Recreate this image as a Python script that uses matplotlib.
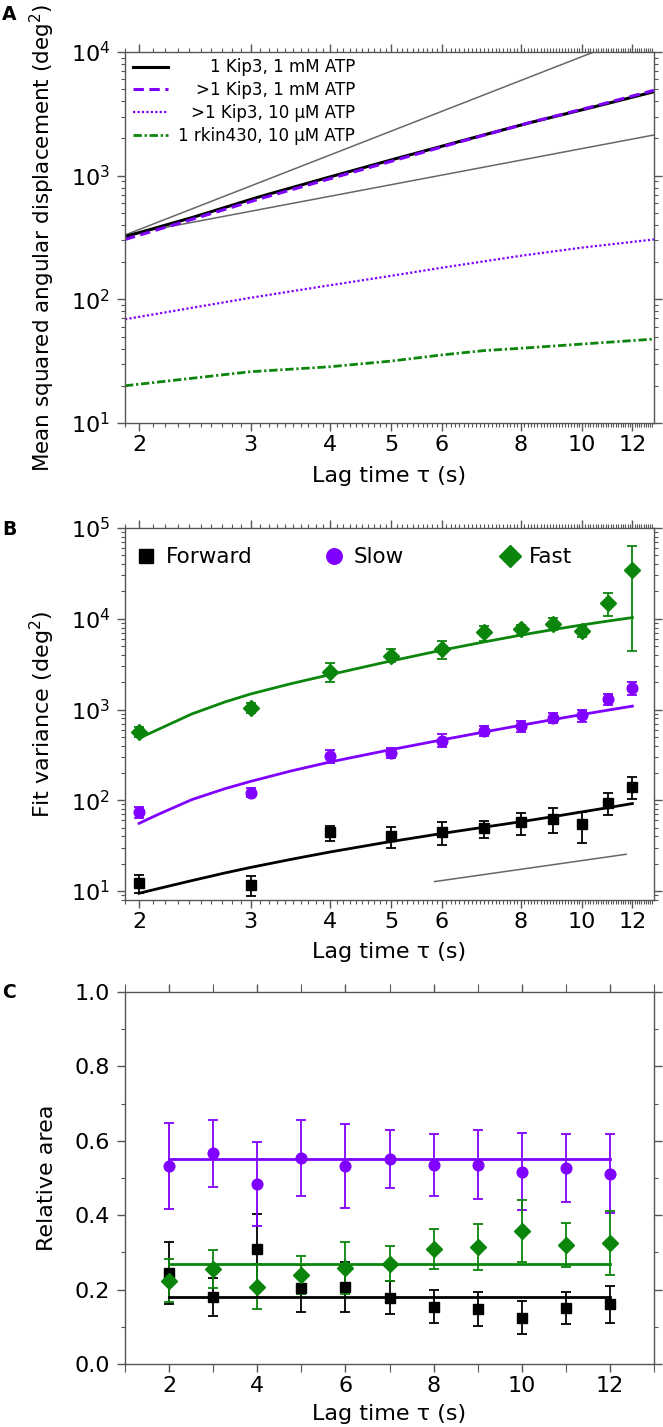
import numpy as np
import matplotlib
matplotlib.use("Agg")
import matplotlib.pyplot as plt
from matplotlib.legend import Legend
from matplotlib.ticker import (FixedLocator, FixedFormatter, LogLocator, NullFormatter,
                               LogFormatterMathtext, MultipleLocator, FormatStrFormatter)

plt.rcParams['font.family'] = ['DejaVu Sans']
plt.rcParams['mathtext.fontset'] = 'dejavusans'

BLACK = '#000000'
PURPLE = '#8000ff'
GREEN = '#0b850b'
GRAY = '#666666'
AXC = '#555555'

# ---- panel A: MSD curves ----
msd_tau = [1.9, 2.43, 3.1, 3.96, 5.06, 6.47, 8.27, 10.56, 12.98]
msd_kip3_1mM = [321, 460, 676, 963, 1364, 1918, 2682, 3653, 4775]
msd_multi_1mM = [305, 445, 650, 930, 1330, 1900, 2690, 3700, 4900]
msd_tau_slow = [1.9, 3, 4, 5, 6, 8, 10, 12.98]
msd_multi_10uM = [69, 103, 130, 155, 180, 225, 262, 305]
msd_tau_rkin = [1.9, 3, 4, 5, 6, 7, 8, 10, 12.98]
msd_rkin_10uM = [20, 26, 28.5, 31.7, 35.5, 38.5, 40.2, 43.5, 47.7]
msd_labels = ['1 Kip3, 1 mM ATP', '>1 Kip3, 1 mM ATP', '>1 Kip3, 10 µM ATP', '1 rkin430, 10 µM ATP']

guide2_x = [1.9, 10.43]
guide2_y = [331, 10000]
guide1_x = [1.9, 12.98]
guide1_y = [331, 2134]

# ---- panel B: fit variances ----
tau = [2, 3, 4, 5, 6, 7, 8, 9, 10, 11, 12]
fwd_var = [12.4, 11.6, 44.4, 40.6, 44.4, 49, 57, 62, 54.7, 94, 141]
fwd_var_hi = [15.0, 14.6, 52.5, 51, 58, 59.5, 73, 83, 74.7, 121, 179]
fwd_var_lo = [9.4, 8.8, 35.8, 30, 32, 38, 41, 44, 34, 69, 102]
slow_var = [73.6, 121, 307, 329, 453, 584, 657, 800, 869, 1305, 1738]
slow_var_hi = [85, 135, 357, 372, 537, 657, 750, 918, 1000, 1500, 2000]
slow_var_lo = [63, 108, 255, 289, 385, 510, 565, 702, 730, 1120, 1460]
fast_var = [569, 1047, 2612, 3920, 4604, 7080, 7640, 8680, 7380, 15000, 34400]
fast_var_hi = [648, 1190, 3260, 4640, 5670, 8330, 8640, 10100, 8330, 19400, 63300]
fast_var_lo = [494, 907, 2020, 3320, 3570, 5740, 6600, 7460, 6310, 10700, 4400]

fit_tau = [2, 2.14, 2.42, 2.73, 3, 3.47, 4, 4.87, 6, 7, 8, 9, 10, 11, 12]
fwd_fit = [9.44, 10.6, 13.0, 15.8, 18.2, 22.3, 26.9, 34.1, 43, 50.5, 58, 66, 74.5, 83, 92]
slow_fit = [55.7, 69.5, 101.4, 134, 161.5, 210, 264, 349, 462, 565, 670, 775, 881, 986, 1089]
fast_fit = [482, 600, 891, 1209, 1483, 1924, 2420, 3300, 4500, 5550, 6600, 7600, 8550, 9450, 10300]

guideB_x = [5.85, 11.73]
guideB_y = [12.7, 25.4]

# ---- panel C: relative areas ----
fwd_area = [0.244, 0.180, 0.308, 0.203, 0.206, 0.178, 0.154, 0.147, 0.125, 0.151, 0.160]
fwd_area_err = [0.083, 0.050, 0.095, 0.062, 0.067, 0.044, 0.044, 0.046, 0.045, 0.043, 0.049]
slow_area = [0.532, 0.566, 0.483, 0.554, 0.532, 0.551, 0.534, 0.536, 0.517, 0.527, 0.512]
slow_area_err = [0.115, 0.090, 0.113, 0.103, 0.112, 0.078, 0.083, 0.092, 0.103, 0.091, 0.105]
fast_area = [0.224, 0.255, 0.208, 0.240, 0.259, 0.270, 0.309, 0.315, 0.357, 0.320, 0.325]
fast_area_err = [0.057, 0.052, 0.060, 0.051, 0.070, 0.046, 0.054, 0.062, 0.083, 0.060, 0.087]
fwd_mean, slow_mean, fast_mean = 0.18, 0.55, 0.27

W, H = 663, 1427
fig = plt.figure(figsize=(W / 100, H / 100), dpi=100)


def px_axes(left, top, right, bottom):
    return fig.add_axes([left / W, 1 - bottom / H, (right - left) / W, (bottom - top) / H])


def style_axes(ax):
    for s in ax.spines.values():
        s.set_color(AXC)
        s.set_linewidth(1.0)
    ax.tick_params(which='both', direction='out', top=True, right=True, color=AXC,
                   labelsize=16, labelcolor='black')
    ax.tick_params(which='major', length=5.8, width=1.0)
    ax.tick_params(which='minor', length=3.2, width=0.8)
    ax.tick_params(axis='x', which='major', pad=2.5)
    ax.tick_params(axis='y', which='major', pad=5)


def log_lag_axis(ax):
    ax.set_xscale('log')
    ax.set_xlim(1.9, 12.98)
    ax.xaxis.set_major_locator(FixedLocator([2, 3, 4, 5, 6, 8, 10, 12]))
    ax.xaxis.set_major_formatter(FixedFormatter(['2', '3', '4', '5', '6', '8', '10', '12']))
    ax.xaxis.set_minor_locator(FixedLocator(np.arange(19, 130) / 10.0))
    ax.xaxis.set_minor_formatter(NullFormatter())
    ax.yaxis.set_major_formatter(LogFormatterMathtext())
    ax.yaxis.set_minor_locator(LogLocator(base=10, subs=np.arange(2, 10)))
    ax.yaxis.set_minor_formatter(NullFormatter())


def lag_label(ax, ycoord):
    ax.set_xlabel('Lag time τ (s)', fontsize=16)
    ax.xaxis.set_label_coords(0.5, ycoord)


# ---------------- A ----------------
axA = px_axes(125, 52, 654, 423)
axA.set_yscale('log')
axA.plot(guide2_x, guide2_y, color=GRAY, lw=1.1)
axA.plot(guide1_x, guide1_y, color=GRAY, lw=1.1)
lA = []
lA += axA.plot(msd_tau, msd_kip3_1mM, color=BLACK, lw=2.2)
lA += axA.plot(msd_tau, msd_multi_1mM, color=PURPLE, lw=2.2, ls=(0, (3.4, 1.8)))
lA += axA.plot(msd_tau_slow, msd_multi_10uM, color=PURPLE, lw=1.6, ls=(0, (1, 1)))
lA += axA.plot(msd_tau_rkin, msd_rkin_10uM, color=GREEN, lw=2.0, ls=(0, (3, 1, 0.8, 1)))
axA.set_ylim(10, 1e4)
log_lag_axis(axA)
lag_label(axA, -0.116)
axA.set_ylabel('Mean squared angular displacement (deg$^2$)', fontsize=15.5)
axA.yaxis.set_label_coords(-0.128, 0.5)
style_axes(axA)
legA = axA.legend(lA, msd_labels, loc='upper left', frameon=False, fontsize=12,
                  handlelength=2.1, handletextpad=0.6, labelspacing=0.29,
                  borderaxespad=0.1, bbox_to_anchor=(0.0, 1.005))
fig.canvas.draw()
texts = legA.get_texts()
widths = [t.get_window_extent().width for t in texts]
for t, w in zip(texts, widths):
    t.set_position((max(widths) - w, 0))

# ---------------- B ----------------
axB = px_axes(125, 528, 654, 900)
axB.set_yscale('log')
axB.plot(guideB_x, guideB_y, color=GRAY, lw=1.1)
axB.plot(fit_tau, fwd_fit, color=BLACK, lw=2.0)
axB.plot(fit_tau, slow_fit, color=PURPLE, lw=2.0)
axB.plot(fit_tau, fast_fit, color=GREEN, lw=2.0)


def errbar(ax, y, lo, hi, color, marker, ms, label):
    y = np.array(y)
    yerr = [y - np.array(lo), np.array(hi) - y]
    return ax.errorbar(tau, y, yerr=yerr, fmt=marker, color=color, ms=ms, mec=color,
                       elinewidth=1.3, capsize=3.8, capthick=1.3, label=label)


hB = [errbar(axB, fwd_var, fwd_var_lo, fwd_var_hi, BLACK, 's', 6.6, 'Forward'),
      errbar(axB, slow_var, slow_var_lo, slow_var_hi, PURPLE, 'o', 7.7, 'Slow'),
      errbar(axB, fast_var, fast_var_lo, fast_var_hi, GREEN, 'D', 7.8, 'Fast')]
axB.set_ylim(7.96, 1e5)
log_lag_axis(axB)
lag_label(axB, -0.113)
axB.set_ylabel('Fit variance (deg$^2$)', fontsize=16)
axB.yaxis.set_label_coords(-0.128, 0.5)
style_axes(axB)
for h, lab, xa in zip(hB, ['Forward', 'Slow', 'Fast'], [-0.0125, 0.343, 0.674]):
    leg = Legend(axB, [h[0]], [lab], loc='upper left', frameon=False, fontsize=15.5,
                 handlelength=0.8, handletextpad=0.5, markerscale=1.45,
                 bbox_to_anchor=(xa, 1.0))
    axB.add_artist(leg)

# ---------------- C ----------------
axC = px_axes(125, 992, 654, 1364)
axC.errorbar(tau, fwd_area, yerr=fwd_area_err, fmt='s', color=BLACK, ms=6.6,
             elinewidth=1.3, capsize=3.8, capthick=1.3)
axC.errorbar(tau, slow_area, yerr=slow_area_err, fmt='o', color=PURPLE, ms=7.7,
             elinewidth=1.3, capsize=3.8, capthick=1.3)
axC.errorbar(tau, fast_area, yerr=fast_area_err, fmt='D', color=GREEN, ms=7.8,
             elinewidth=1.3, capsize=3.8, capthick=1.3)
axC.plot([tau[0], tau[-1]], [fwd_mean, fwd_mean], color=BLACK, lw=2.0)
axC.plot([tau[0], tau[-1]], [slow_mean, slow_mean], color=PURPLE, lw=2.0)
axC.plot([tau[0], tau[-1]], [fast_mean, fast_mean], color=GREEN, lw=2.0)
axC.set_xlim(1, 13)
axC.set_ylim(0, 1)
axC.xaxis.set_major_locator(MultipleLocator(2))
axC.xaxis.set_minor_locator(MultipleLocator(1))
axC.yaxis.set_major_locator(MultipleLocator(0.2))
axC.yaxis.set_minor_locator(MultipleLocator(0.1))
axC.yaxis.set_major_formatter(FormatStrFormatter('%.1f'))
lag_label(axC, -0.108)
axC.set_ylabel('Relative area', fontsize=16)
axC.yaxis.set_label_coords(-0.128, 0.5)
style_axes(axC)
axC.tick_params(axis='x', which='minor', length=5.8)

for lab, ypx in [('A', 15), ('B', 529), ('C', 992)]:
    fig.text(2 / W, 1 - ypx / H, lab, fontsize=13.5, fontweight='bold', va='center', ha='left')

fig.savefig('out.png', dpi=100)
